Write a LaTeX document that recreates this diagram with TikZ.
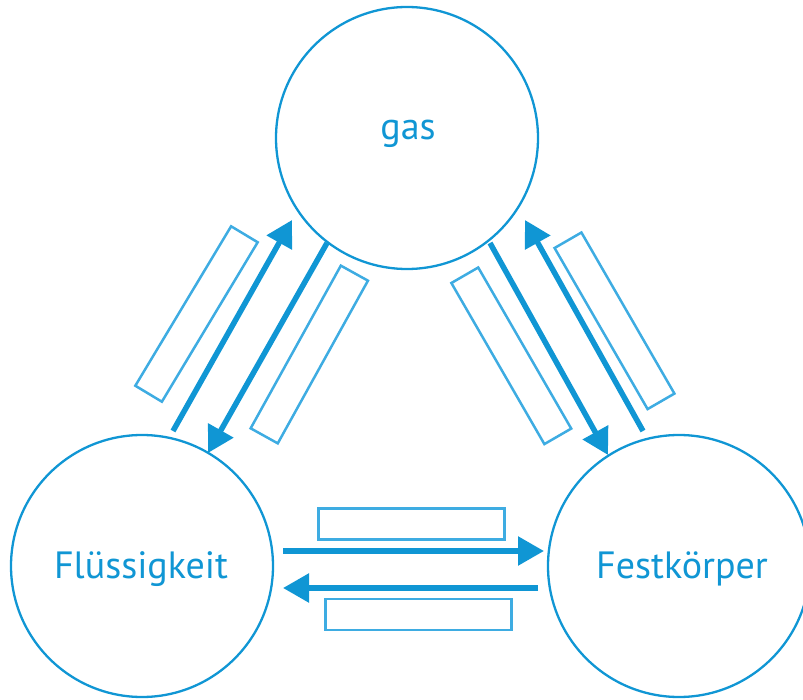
\documentclass[tikz,border=0pt]{standalone}
\usepackage{fontspec}
\setmainfont{PT Sans}
\usetikzlibrary{arrows.meta}
\definecolor{phaseblue}{RGB}{16,150,212}
\definecolor{boxblue}{RGB}{62,172,226}
\tikzset{
  phase/.style={circle, draw=phaseblue, line width=2.3pt, minimum size=262pt, inner sep=0pt},
  phaselabel/.style={anchor=base, text=phaseblue, font=\fontsize{38}{40}\selectfont},
  trans/.style={draw=phaseblue, line width=5.5pt, -{Triangle[length=26pt, width=28pt]}},
  blank/.style={draw=boxblue, line width=2.5pt, minimum width=186pt, minimum height=31pt, inner sep=0pt}
}
\begin{document}
\begin{tikzpicture}[x=1pt, y=-1pt]
\useasboundingbox (0,0) rectangle (803,700);

% the three states
\node[phase] (gas) at (407,138) {};
\node[phase] (fluid) at (142,566) {};
\node[phase] (solid) at (679,566) {};
\node[phaselabel] (gasText) at (408,140) {gas};
\node[phaselabel] (fluidText) at (141,578) {Flüssigkeit};
\node[phaselabel] (solidText) at (682,578) {Festkörper};

% arrow end points
\coordinate (fgTail) at (173,431);
\coordinate (fgTip) at (292,220);
\coordinate (gfTail) at (327,243);
\coordinate (gfTip) at (208,453);
\coordinate (gsTail) at (490,243);
\coordinate (gsTip) at (608,455);
\coordinate (sgTail) at (643,431);
\coordinate (sgTip) at (525,220);
\coordinate (fsTail) at (283,551);
\coordinate (fsTip) at (544,551);
\coordinate (sfTail) at (538,588);
\coordinate (sfTip) at (283,588);

% transitions
\draw[trans] (fgTail) -- (fgTip);
\draw[trans] (gfTail) -- (gfTip);
\draw[trans] (gsTail) -- (gsTip);
\draw[trans] (sgTail) -- (sgTip);
\draw[trans] (fsTail) -- (fsTip);
\draw[trans] (sfTail) -- (sfTip);

% empty answer boxes
\node[blank, rotate=59] (boxFG) at (196.5,314) {};
\node[blank, rotate=61] (boxGF) at (309.3,354.5) {};
\node[blank, rotate=-60] (boxGS) at (511.3,355.8) {};
\node[blank, rotate=-60] (boxSG) at (614.5,320.8) {};
\node[blank] (boxFS) at (411.5,524) {};
\node[blank] (boxSF) at (418.5,614.5) {};
\end{tikzpicture}
\end{document}
